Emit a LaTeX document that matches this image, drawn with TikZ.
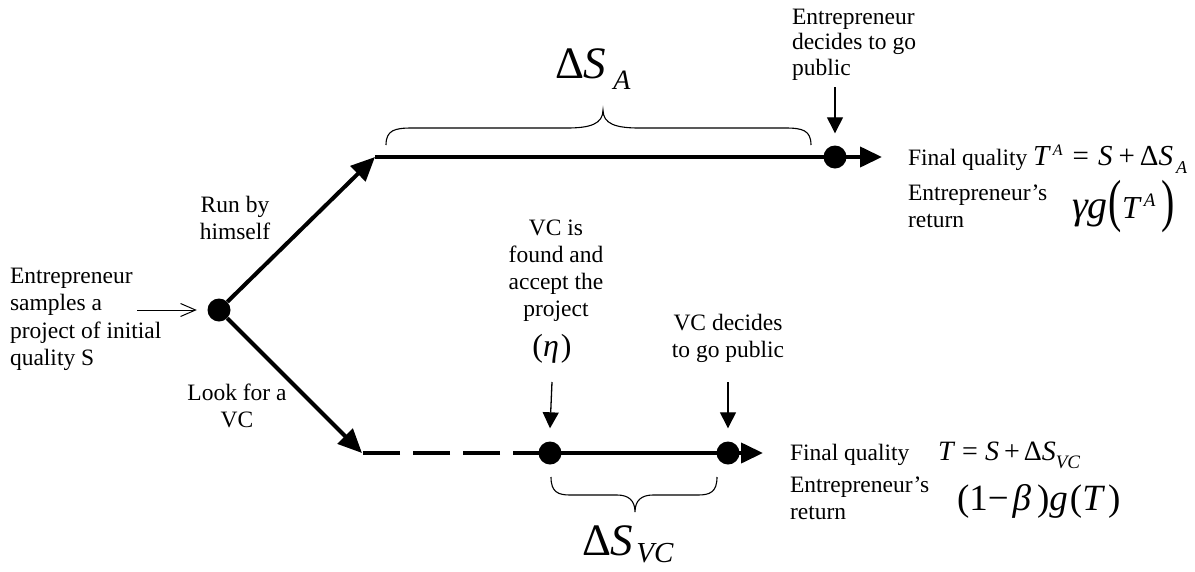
\documentclass[tikz,border=0pt]{standalone}
\usepackage{fontspec}
\setmainfont{Liberation Serif}
\usepackage{graphicx}
\usetikzlibrary{arrows.meta}
\newcommand\fsz[1]{\fontsize{#1}{#1}\selectfont}
\begin{document}
\begin{tikzpicture}[x=1pt,y=-1pt,
  lbl/.style={font=\fontsize{23.5}{27}\selectfont, inner sep=0pt, outer sep=0pt},
  dotn/.style={circle, fill=black, draw=none, minimum size=23pt, inner sep=0pt},
  thk/.style={line width=4pt},
  thkarr/.style={line width=4pt, -{Triangle[length=24pt,width=21pt]}},
  harr/.style={line width=4pt, -{Triangle[length=22pt,width=20pt]}},
  thinarr/.style={line width=1.3pt, -{Triangle[length=16pt,width=16pt]}},
  inarr/.style={line width=1pt, -{Straight Barb[length=15pt,width=13pt]}},
  brc/.style={line width=1.1pt},
  eq/.style={inner sep=0pt, outer sep=0pt}]
\useasboundingbox (0,0) rectangle (1195,571);

% nodes (dots)
\node[dotn] (d0) at (219,310) {};
\node[dotn] (d1) at (835,157) {};
\node[dotn] (d2) at (550,453) {};
\node[dotn] (d3) at (728,453) {};
\coordinate (t0) at (375,157);
\coordinate (e1) at (882,157);
\coordinate (b0) at (362,453);
\coordinate (e2) at (763,453);
\coordinate (in0) at (137,310);
\coordinate (a1) at (835,87);
\coordinate (a2) at (552,382);
\coordinate (a3) at (728,382);

% connectors
\draw[thkarr] (d0) -- (t0);
\draw[thk] (t0) -- (d1.center);
\draw[harr] (d1.center) -- (e1);
\draw[thkarr] (d0) -- (b0);
\draw[thk, dash pattern=on 37pt off 13pt] (d2.center) -- (b0);
\draw[thk] (d2.center) -- (d3.center);
\draw[harr] (d3.center) -- (e2);
\draw[inarr] (in0) -- ([xshift=-10.5pt]d0.west);
\draw[thinarr] (a1) -- ([yshift=12pt]d1.north);
\draw[thinarr] (a2) -- ([yshift=13pt]d2.north);
\draw[thinarr] (a3) -- ([yshift=13pt]d3.north);

% braces
\draw[brc] (386,145) .. controls (386,130) and (395,128) .. (412,128) -- (567,128)
  .. controls (590,128) and (603,124) .. (603,110)
  .. controls (603,124) and (616,128) .. (639,128) -- (785,128)
  .. controls (802,128) and (811,130) .. (811,145);
\draw[brc] (551,477) .. controls (551,492) and (558,495) .. (570,495) -- (617,495)
  .. controls (628,495) and (635,500) .. (635,512)
  .. controls (635,500) and (642,495) .. (653,495) -- (698,495)
  .. controls (710,495) and (717,492) .. (717,477);

% texts
\node[lbl, anchor=north west, align=left, font=\fontsize{23.5}{27.5}\selectfont] (src) at (10,267.8)
  {Entrepreneur\\samples a\\project of initial\\quality S};
\node[lbl, anchor=north, align=center] (run) at (235,196.3) {Run by\\himself};
\node[lbl, anchor=north, align=center] (look) at (237,384.3) {Look for a\\VC};
\node[lbl, anchor=north west, align=left, font=\fontsize{23.5}{25.5}\selectfont] (edec) at (792,8.8)
  {Entrepreneur\\decides to go\\public};
\node[lbl, anchor=north, align=center] (vcf) at (556,220.3)
  {VC is\\found and\\accept the\\project};
\node[eq, anchor=base] (eta) at (552,356) {\fsz{32}(\textit{η}\hspace{2pt})};
\node[lbl, anchor=north, align=center] (vcd) at (728,314.3) {VC decides\\to go public};

\node[eq, anchor=base west] (dsa) at (555,78)
  {\fsz{45}Δ\textit{S}\hspace{7pt}\raisebox{-11pt}{\fsz{28}\textit{A}}};
\node[eq, anchor=base west] (dsvc) at (582,555)
  {\fsz{45}Δ\textit{S}\hspace{3pt}\raisebox{-7pt}{\fsz{29}\textit{VC}}};

% right texts, top
\node[lbl, anchor=base west] (fq1) at (908,165) {Final quality};
\node[eq, anchor=base west] (eq1) at (1033,165)
  {\fsz{29}\textit{T}\hspace{2pt}\raisebox{10pt}{\fsz{16}\textit{A}}\hspace{10pt}=\hspace{9pt}\textit{S}\hspace{6pt}+\hspace{5pt}Δ\textit{S}\hspace{3pt}\raisebox{-8pt}{\fsz{18}\textit{A}}};
\node[lbl, anchor=north west, align=left] (er1) at (908,184.7) {Entrepreneur’s\\return};
\node[eq, anchor=base west] (ret1) at (1072,218)
  {\fsz{40}\textit{γg}\hspace{1pt}\raisebox{-2pt}{\scalebox{1}[1.45]{\fsz{40}(}}{\fsz{32}\textit{T}}\hspace{2pt}\raisebox{12pt}{\fsz{19}\textit{A}}\hspace{6pt}\raisebox{-2pt}{\scalebox{1}[1.45]{\fsz{40})}}};

% right texts, bottom
\node[lbl, anchor=base west] (fq2) at (790,460) {Final quality};
\node[eq, anchor=base west] (eq2) at (938,460)
  {\fsz{28}\textit{T}\hspace{7pt}=\hspace{7pt}\textit{S}\hspace{5pt}+\hspace{4pt}Δ\textit{S}\raisebox{-8pt}{\fsz{19}\textit{VC}}};
\node[lbl, anchor=north west, align=left] (er2) at (790,476.7) {Entrepreneur’s\\return};
\node[eq, anchor=base west] (ret2) at (957,510)
  {\fsz{37}(1−\hspace{4pt}\textit{β}\hspace{6pt})\textit{g}\hspace{2pt}(\textit{T}\hspace{3pt})};
\end{tikzpicture}
\end{document}
